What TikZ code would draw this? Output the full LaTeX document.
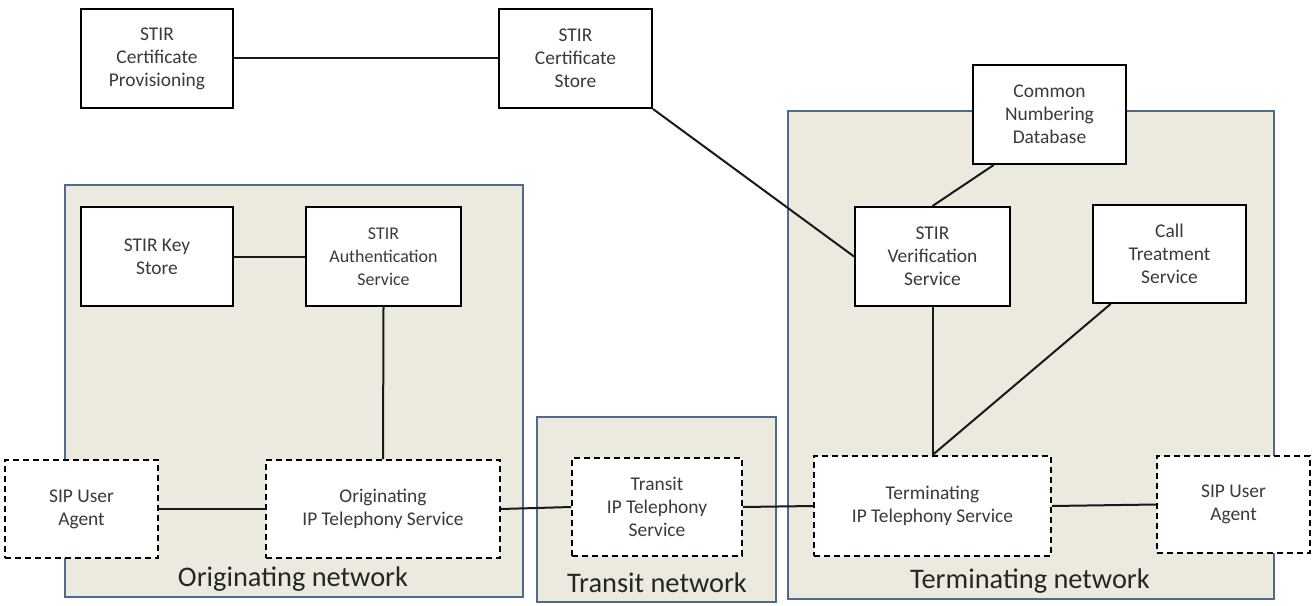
\documentclass[tikz,border=0pt]{standalone}
\usepackage{fontspec}
\setmainfont{Carlito}
\usetikzlibrary{calc}
\definecolor{regfill}{HTML}{ECE9DF}
\definecolor{regline}{HTML}{4F6A8F}
\definecolor{txt}{HTML}{3A3A3A}
\tikzset{
  box/.style={draw=black, fill=white, line width=2bp, inner sep=0pt, align=center,
    text=txt, font=\fontsize{19.5}{23}\selectfont},
  dbox/.style={box, dash pattern=on 6bp off 4bp},
  region/.style={draw=regline, fill=regfill, line width=1.6bp},
  regionlabel/.style={text=black!85, font=\fontsize{28.5}{31}\selectfont, inner sep=0pt},
  link/.style={draw=black!90, line width=2bp},
}
\begin{document}
\begin{tikzpicture}[x=1bp, y=-1bp]
\useasboundingbox (0,0) rectangle (1316,606);
% network regions
\draw[region] (65,185) rectangle (523,597);
\draw[region] (537,417) rectangle (776,602);
\draw[region] (788,111) rectangle (1274,599);
\node[regionlabel] (lorig) at (293,579) {Originating network};
\node[regionlabel] (ltrans) at (657,583) {Transit network};
\node[regionlabel] (lterm) at (1030,581) {Terminating network};
% boxes
\node[box, minimum width=152bp, minimum height=99bp] (prov) at (157,58.5) {STIR\\Certificate\\Provisioning};
\node[box, minimum width=153bp, minimum height=99bp] (store) at (575.5,58.5) {STIR\\Certificate\\Store};
\node[box, minimum width=153bp, minimum height=99bp] (cnd) at (1049.5,114.5) {Common\\Numbering\\Database};
\node[box, minimum width=152bp, minimum height=99bp] (keystore) at (157,256.5) {STIR Key\\Store};
\node[box, minimum width=155bp, minimum height=99bp, font=\fontsize{18}{23}\selectfont] (auth) at (383.5,256.5) {STIR\\Authentication\\Service};
\node[box, minimum width=155bp, minimum height=99bp] (verif) at (932.5,256.5) {STIR\\Verification\\Service};
\node[box, minimum width=153bp, minimum height=98bp] (callt) at (1169.5,254) {Call\\Treatment\\Service};
\node[dbox, minimum width=153bp, minimum height=98bp] (sipl) at (81.5,509) {SIP User\\Agent};
\node[dbox, minimum width=234bp, minimum height=98bp] (origits) at (383,509) {Originating\\IP Telephony Service};
\node[dbox, minimum width=170bp, minimum height=98bp] (transits) at (657,507) {Transit\\IP Telephony\\Service};
\node[dbox, minimum width=237bp, minimum height=100bp] (termits) at (932.5,506) {Terminating\\IP Telephony Service};
\node[dbox, minimum width=153bp, minimum height=97bp] (sipr) at (1233.5,504.5) {SIP User\\Agent};
% connectors
\draw[link] (prov.east) -- (store.west);
\draw[link] (store.south east) -- (verif.west);
\draw[link] ($(cnd.south west)!0.14!(cnd.south east)$) -- (verif.north);
\draw[link] (keystore.east) -- (auth.west);
\draw[link] (auth.south) -- (origits.north);
\draw[link] (sipl.east) -- (origits.west);
\draw[link] (origits.east) -- (transits.west);
\draw[link] (transits.east) -- (termits.west);
\draw[link] (termits.east) -- (sipr.west);
\draw[link] (verif.south) -- (termits.north);
\draw[link] ($(callt.south west)!0.12!(callt.south east)$) -- (termits.north);
\end{tikzpicture}
\end{document}
